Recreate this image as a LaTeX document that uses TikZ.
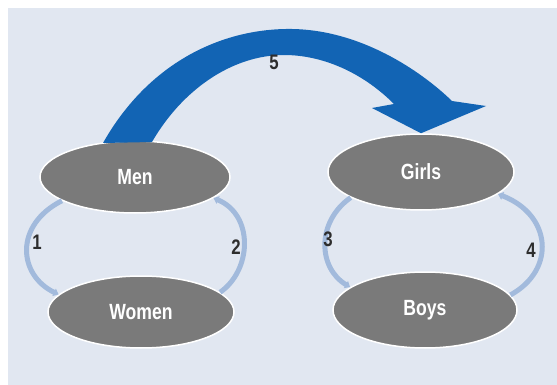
\documentclass[tikz,border=0pt]{standalone}
\usepackage{fontspec}
\setmainfont{Liberation Sans}[FakeStretch=0.8]
\usetikzlibrary{arrows.meta}
\definecolor{panel}{RGB}{225,231,241}
\definecolor{bubble}{RGB}{122,122,122}
\definecolor{bigblue}{RGB}{18,100,180}
\definecolor{lightarc}{RGB}{162,186,220}
\definecolor{numcol}{RGB}{45,45,45}
\tikzset{
  bubble/.style={ellipse, fill=bubble, draw=white, line width=1.5pt,
    font=\bfseries\fontsize{22}{22}\selectfont, text=white},
  cyclearc/.style={draw=lightarc, line width=5pt,
    -{Triangle[width=8pt,length=5pt]}},
  numlabel/.style={font=\bfseries\fontsize{21}{21}\selectfont, text=numcol}
}
\usetikzlibrary{shapes.geometric}
\begin{document}
\begin{tikzpicture}[x=1pt,y=-1pt]
\useasboundingbox (0,0) rectangle (557,385);
\fill[white] (0,0) rectangle (557,385);
\fill[panel] (8,8) rectangle (557,385);
% nodes
\node[bubble, minimum width=190pt, minimum height=72pt] (men) at (135,177) {Men};
\node[bubble, minimum width=186pt, minimum height=72pt] (women) at (141,312) {Women};
\node[bubble, minimum width=186pt, minimum height=76pt] (girls) at (421,172) {Girls};
\node[bubble, minimum width=184pt, minimum height=76pt] (boys) at (425,310) {Boys};
% big arrow
\fill[bigblue] (103,143) .. controls (150,60) and (225,28) .. (292,29)
  .. controls (360,30) and (420,70) .. (452,101) -- (486,106) -- (girls.north)
  -- (372,108) -- (394,104) .. controls (362,72) and (322,55) .. (284,55)
  .. controls (232,55) and (182,90) .. (152,142) -- cycle;
% cycle arcs
\draw[cyclearc] (men.198) .. controls (14,225) and (18,275) .. (women.168);
\draw[cyclearc] (women.14) .. controls (252,270) and (254,215) .. (men.-15);
\draw[cyclearc] (girls.200) .. controls (316,222) and (318,268) .. (boys.163);
\draw[cyclearc] (boys.10) .. controls (556,270) and (552,215) .. (girls.-16);
% labels
\node[numlabel] (n1) at (37,242) {1};
\node[numlabel] (n2) at (236,247) {2};
\node[numlabel] (n3) at (328,239) {3};
\node[numlabel] (n4) at (531,250) {4};
\node[numlabel] (n5) at (274,62) {5};
\end{tikzpicture}
\end{document}
